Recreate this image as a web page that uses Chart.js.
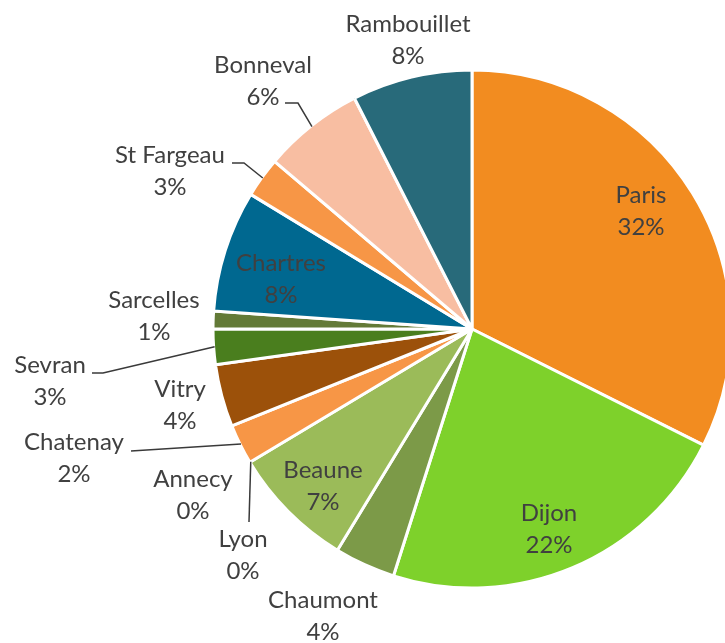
<!DOCTYPE html>
<html>
<head>
<meta charset="utf-8">
<script src="https://cdn.jsdelivr.net/npm/chart.js@4"></script>
<style>
  html, body { margin: 0; padding: 0; background: #fff; overflow: hidden; }
  #wrap { width: 725px; height: 643px; }
</style>
</head>
<body>
<div id="wrap"><canvas id="pie" width="725" height="643"></canvas></div>
<script>
// Parts du total par site (en %)
const sites = ["Paris", "Dijon", "Chaumont", "Beaune", "Lyon", "Annecy", "Chatenay",
  "Vitry", "Sevran", "Sarcelles", "Chartres", "St Fargeau", "Bonneval", "Rambouillet"];
const shares = [32.4, 22.5, 3.8, 7.7, 0, 0, 2.5, 3.9, 2.2, 1.1, 7.6, 2.5, 6.3, 7.5];
// Pourcentages affichés tels quels sur l'original
const shownPct = ["32%", "22%", "4%", "7%", "0%", "0%", "2%", "4%", "3%", "1%", "8%", "3%", "6%", "8%"];

const sliceColors = ["#F28C20", "#7ED12B", "#7C9A48", "#9BBB59", "#9BBB59", "#F79646", "#F79646",
  "#9C510A", "#4A7E1E", "#637A37", "#006890", "#F79646", "#F8BEA2", "#286A7A"];

// Placement des etiquettes : centre du texte (dx) et ligne de base (dy) par rapport au centre du camembert.
// leader = points de depart du trait de rappel (le dernier point est calcule sur le bord de la part).
const labelLayout = {
  "Paris":       { dx: 169,  dy: -126 },
  "Dijon":       { dx: 77,   dy: 192 },
  "Chaumont":    { dx: -149, dy: 279 },
  "Beaune":      { dx: -149, dy: 149 },
  "Lyon":        { dx: -229, dy: 218, leader: [[-223, 193]] },
  "Annecy":      { dx: -279, dy: 158 },
  "Chatenay":    { dx: -398, dy: 121, leader: [[-341, 122]] },
  "Vitry":       { dx: -292, dy: 68 },
  "Sevran":      { dx: -422, dy: 44,  leader: [[-380, 44], [-369, 44]] },
  "Sarcelles":   { dx: -318, dy: -21 },
  "Chartres":    { dx: -191, dy: -58 },
  "St Fargeau":  { dx: -302, dy: -166, leader: [[-240, -166], [-228, -166]] },
  "Bonneval":    { dx: -209, dy: -256, leader: [[-187, -226], [-174, -226]] },
  "Rambouillet": { dx: -64,  dy: -297 },
};

const LINE_GAP = 32;
const TEXT_COLOR = "#404040";

const sliceLabels = {
  id: "sliceLabels",
  afterDatasetsDraw(c) {
    const meta = c.getDatasetMeta(0);
    const ctx = c.ctx;
    ctx.save();
    ctx.font = "24px Lato, 'Open Sans', sans-serif";
    ctx.fillStyle = TEXT_COLOR;
    ctx.strokeStyle = "#3a3a3a";
    ctx.lineWidth = 1.5;
    ctx.textAlign = "center";
    ctx.textBaseline = "alphabetic";
    meta.data.forEach((arc, i) => {
      const lay = labelLayout[sites[i]];
      if (!lay) return;
      const cx = arc.x, cy = arc.y;
      if (lay.leader) {
        const mid = (arc.startAngle + arc.endAngle) / 2;
        const r = arc.outerRadius - 1;
        ctx.beginPath();
        lay.leader.forEach(([px, py], k) => {
          if (k === 0) ctx.moveTo(cx + px, cy + py);
          else ctx.lineTo(cx + px, cy + py);
        });
        ctx.lineTo(cx + Math.cos(mid) * r, cy + Math.sin(mid) * r);
        ctx.stroke();
      }
      ctx.fillText(sites[i], cx + lay.dx, cy + lay.dy);
      ctx.fillText(shownPct[i], cx + lay.dx, cy + lay.dy + LINE_GAP);
    });
    ctx.restore();
  },
};

new Chart(document.getElementById("pie").getContext("2d"), {
  type: "pie",
  data: {
    labels: sites,
    datasets: [{
      data: shares,
      backgroundColor: sliceColors,
      borderColor: "#ffffff",
      borderWidth: 3,
      radius: 259,
    }],
  },
  options: {
    responsive: false,
    animation: false,
    // decale le centre du camembert vers (472, 329) ; la part Paris deborde a droite comme sur l'original
    layout: { padding: { left: 219, top: 15, right: 0, bottom: 0 } },
    plugins: {
      legend: { display: false },
      tooltip: { enabled: false },
    },
  },
  plugins: [sliceLabels],
});
</script>
</body>
</html>
